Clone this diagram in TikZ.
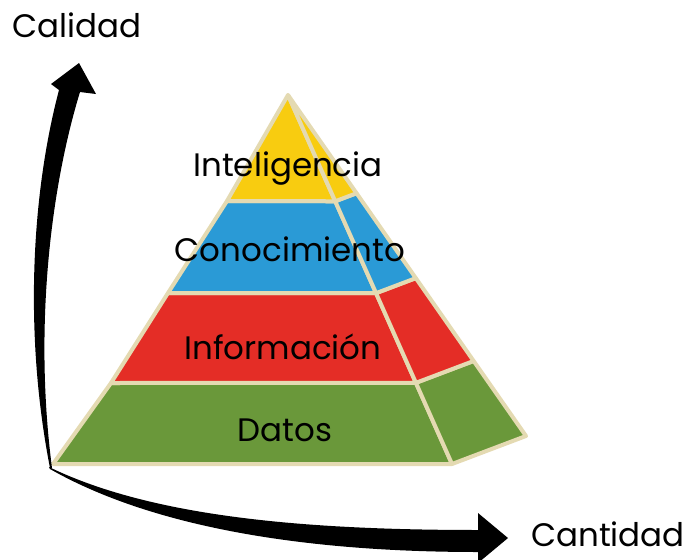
\documentclass[tikz,border=0pt]{standalone}
\usepackage{fontspec}
\setmainfont{Poppins}
\usepackage{tikz}
\usetikzlibrary{calc}

\definecolor{capaAmarilla}{HTML}{F8CC10}
\definecolor{capaAzul}{HTML}{2A9AD6}
\definecolor{capaRoja}{HTML}{E42D26}
\definecolor{capaVerde}{HTML}{6A983A}
\definecolor{bordeCrema}{HTML}{E4DAB2}

\begin{document}
\begin{tikzpicture}[x=1pt,y=-1pt,
	capa/.style={draw=bordeCrema,line width=4pt,line join=round},
	etiqueta/.style={anchor=base,inner sep=0pt,font=\fontsize{32.5}{38}\selectfont}]
			% Picture's frame
			\useasboundingbox (0,0) rectangle (686,560);
			
			% PYRAMID CORNERS
			\coordinate (apex) at (288,95);
			\coordinate (der) at (452,464);
			\coordinate (fondo) at (526,436);
			% left edge, one corner per layer
			\coordinate (izqUno) at (227,201);
			\coordinate (izqDos) at (168,293);
			\coordinate (izqTres) at (111,383);
			\coordinate (izq) at (53,464);
			
			% Layer heights along the right edges
			\def\tUno{0.288}
			\def\tDos{0.537}
			\def\tTres{0.780}
			
			% DATOS
			\filldraw[capa,fill=capaVerde] (izqTres) -- ($(apex)!\tTres!(der)$) -- (der) -- (izq) -- cycle;
			\filldraw[capa,fill=capaVerde] ($(apex)!\tTres!(der)$) -- ($(apex)!\tTres!(fondo)$) -- (fondo) -- (der) -- cycle;
			
			% INFORMACION
			\filldraw[capa,fill=capaRoja] (izqDos) -- ($(apex)!\tDos!(der)$) -- ($(apex)!\tTres!(der)$) -- (izqTres) -- cycle;
			\filldraw[capa,fill=capaRoja] ($(apex)!\tDos!(der)$) -- ($(apex)!\tDos!(fondo)$) -- ($(apex)!\tTres!(fondo)$) -- ($(apex)!\tTres!(der)$) -- cycle;
			
			% CONOCIMIENTO
			\filldraw[capa,fill=capaAzul] (izqUno) -- ($(apex)!\tUno!(der)$) -- ($(apex)!\tDos!(der)$) -- (izqDos) -- cycle;
			\filldraw[capa,fill=capaAzul] ($(apex)!\tUno!(der)$) -- ($(apex)!\tUno!(fondo)$) -- ($(apex)!\tDos!(fondo)$) -- ($(apex)!\tDos!(der)$) -- cycle;
			
			% INTELIGENCIA
			\filldraw[capa,fill=capaAmarilla] (apex) -- ($(apex)!\tUno!(der)$) -- (izqUno) -- cycle;
			\filldraw[capa,fill=capaAmarilla] (apex) -- ($(apex)!\tUno!(fondo)$) -- ($(apex)!\tUno!(der)$) -- cycle;
			
			% LAYER LABELS
			\node[etiqueta] (inteligencia) at (288,176) {Inteligencia};
			\node[etiqueta] (conocimiento) at (290,261) {Conocimiento};
			\node[etiqueta] (informacion) at (283,359) {Información};
			\node[etiqueta] (datos) at (285,441) {Datos};
			
			% QUALITY ARROW (tapered shaft and head)
			\fill[black] (50,468) .. controls (25,340) and (30,200) .. (59,90) -- (51,84) -- (79,63) -- (96,94) -- (80,92) .. controls (50,190) and (34,330) .. (52,468) -- cycle;
			
			% QUANTITY ARROW
			\fill[black] (49,467) .. controls (150,516) and (300,530) .. (478,530) -- (478,513) -- (508,538) -- (478,563) -- (478,552) .. controls (300,552) and (150,526) .. (50,469) -- cycle;
			
			% AXIS LABELS
			\node[etiqueta,anchor=base west] (calidad) at (12,37) {Calidad};
			\node[etiqueta,anchor=base west] (cantidad) at (531,546) {Cantidad};
		\end{tikzpicture}
\end{document}
